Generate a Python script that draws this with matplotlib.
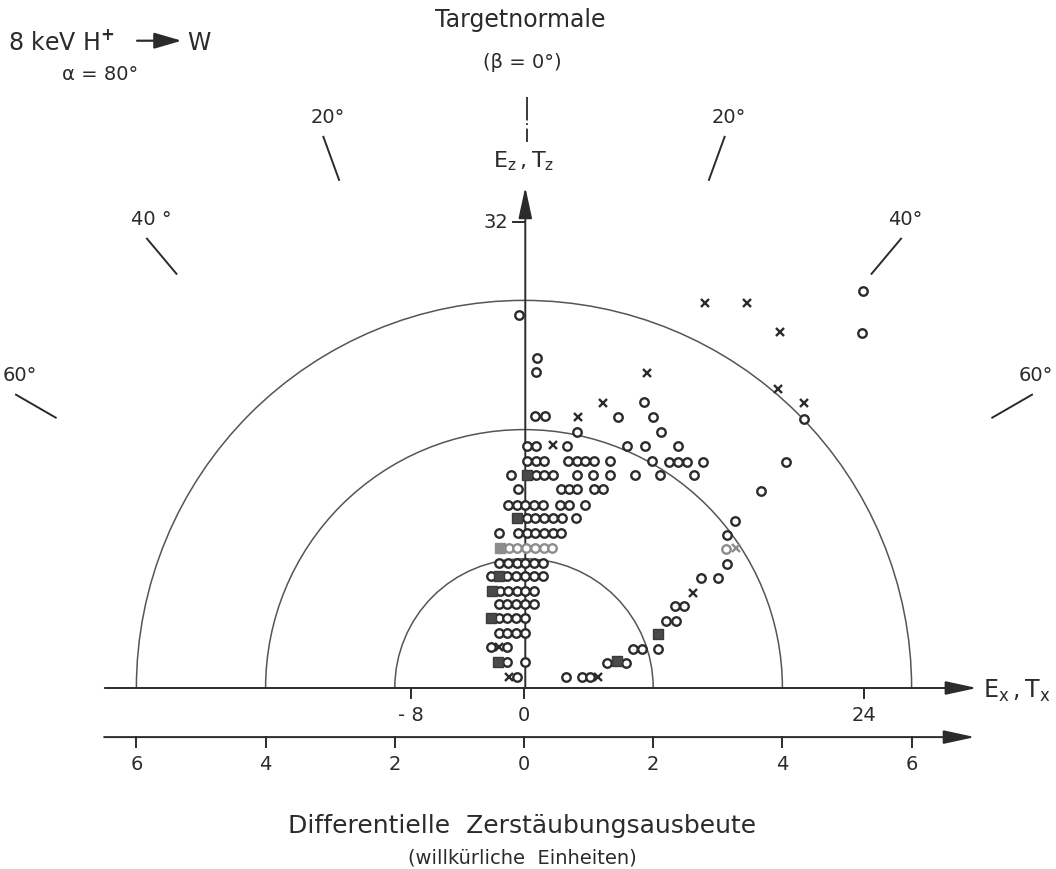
#Polar plot of differential sputtering yield, 8 keV H+ on W
import numpy as np
import matplotlib.pyplot as plt
from matplotlib.patches import Arc

#data, in units of the lower axis (differentielle Zerstaeubungsausbeute)
#open circles, grouped by row
circle_x = [-0.073, 0.197, 0.186, 0.170, 0.325, 1.455, 1.992, 1.862, 2.116, 0.816,
            5.252, 5.228, 4.334, 4.056, 3.664, 3.266, 3.138, 3.147, 2.735, 3.008,
            2.337, 2.477, 2.198, 2.353, 1.683, 1.822, 2.079, 1.289, 1.579,
            0.042, 0.186, 0.661, 1.599, 1.873, 2.389,
            0.042, 0.186, 0.310, 0.686, 0.816, 0.944, 1.084, 1.339, 1.977, 2.245, 2.384, 2.523, 2.766,
            -0.206, 0.186, 0.310, 0.444, 0.816, 1.063, 1.324, 1.718, 2.113, 2.627,
            -0.098, 0.568, 0.701, 0.825, 1.084, 1.218,
            -0.243, -0.113, 0.015, 0.155, 0.299, 0.557, 0.701, 0.944,
            0.042, 0.175, 0.310, 0.444, 0.584, 0.805,
            -0.382, -0.088, 0.042, 0.175, 0.310, 0.444, 0.568,
            -0.382, -0.248, -0.108, 0.015, 0.155, 0.294,
            -0.515, -0.259, -0.124, 0.015, 0.155, 0.290,
            -0.372, -0.243, -0.113, 0.015, 0.155,
            -0.382, -0.259, -0.124, 0.015, 0.155,
            -0.382, -0.259, -0.124, 0.015,
            -0.382, -0.259, -0.124, 0.015,
            -0.515, -0.259,
            -0.268, 0.015,
            -0.113, 0.650, 0.893, 1.022]
circle_y = [5.774, 5.113, 4.896, 4.211, 4.211, 4.195, 4.190, 4.432, 3.967, 3.958,
            6.150, 5.500, 4.159, 3.503, 3.054, 2.590, 2.368, 1.920, 1.698, 1.698,
            1.269, 1.269, 1.042, 1.042, 0.599, 0.599, 0.599, 0.392, 0.392,
            3.750, 3.750, 3.750, 3.740, 3.740, 3.740,
            3.520, 3.520, 3.520, 3.520, 3.520, 3.520, 3.520, 3.520, 3.515, 3.505, 3.505, 3.505, 3.505,
            3.297, 3.297, 3.297, 3.297, 3.297, 3.297, 3.297, 3.297, 3.297, 3.297,
            3.076, 3.076, 3.076, 3.076, 3.076, 3.076,
            2.833, 2.833, 2.833, 2.833, 2.833, 2.833, 2.833, 2.833,
            2.627, 2.627, 2.627, 2.627, 2.627, 2.627,
            2.404, 2.404, 2.404, 2.404, 2.404, 2.404, 2.404,
            1.940, 1.940, 1.940, 1.940, 1.940, 1.940,
            1.734, 1.734, 1.734, 1.734, 1.734, 1.734,
            1.506, 1.506, 1.506, 1.506, 1.506,
            1.300, 1.300, 1.300, 1.300, 1.300,
            1.079, 1.079, 1.079, 1.079,
            0.856, 0.856, 0.856, 0.856,
            0.630, 0.630,
            0.407, 0.407,
            0.175, 0.175, 0.175, 0.175]

#crosses
cross_x = [1.899, 1.218, 0.831, 0.444, 2.802, 3.447, 3.963, 3.937, 4.334, 2.611, -0.382, -0.228, 1.150]
cross_y = [4.871, 4.416, 4.200, 3.762, 5.964, 5.964, 5.515, 4.624, 4.407, 1.475, 0.630, 0.175, 0.175]

#filled squares
square_x = [0.046, -0.104, -0.382, -0.500, -0.515, -0.398, 1.435, 2.079]
square_y = [3.297, 2.627, 1.734, 1.506, 1.079, 0.407, 0.423, 0.836]

#lighter (grey) points
grey_circle_x = [-0.232, -0.101, 0.031, 0.170, 0.302, 0.433, 3.127]
grey_circle_y = [2.167, 2.167, 2.167, 2.167, 2.167, 2.167, 2.147]
grey_cross_x = [3.282]
grey_cross_y = [2.163]
grey_square_x = [-0.379]
grey_square_y = [2.167]

radii = [2, 4, 6]
lower_ticks = [-6, -4, -2, 0, 2, 4, 6]
lower_labels = ['6', '4', '2', '0', '2', '4', '6']
e_ticks = [-8, 0, 24]
e_labels = ['- 8', '0', '24']
ez_tick = 32
angles = [-60, -40, -20, 20, 40, 60]
angle_labels = ['60°', '40 °', '20°', '20°', '40°', '60°']

e_per_unit_x = 4.556  #E_x scale vs. lower axis
e_per_unit_z = 4.44

ink = '#2b2b2b'
grey = '#8c8c8c'
px = 64.6  #pixels per unit

fig = plt.figure(figsize=(10.56, 8.69), dpi=100)
ax = fig.add_axes([0, 0, 1, 1])
ax.set_xlim(-524 / px, (1056 - 524) / px)
ax.set_ylim((688 - 869) / px, 688 / px)
ax.axis('off')

#half circles
for r in radii:
    ax.add_patch(Arc((0, 0), 2 * r, 2 * r, theta1=0, theta2=180, color='#555555', lw=1.1, zorder=1))

arrow = dict(arrowstyle='-|>,head_length=1.2,head_width=0.26', lw=1.4, color=ink,
             mutation_scale=16, shrinkA=0, shrinkB=0)

#upper axis E_x
ax.annotate('', xy=(7.01, 0), xytext=(-6.49, 0), arrowprops=arrow, zorder=2)
for e, lab in zip(e_ticks, e_labels):
    u = e / e_per_unit_x
    ax.plot([u, u], [0, -0.16], color=ink, lw=1.4)
    ax.text(u, -0.43, lab, ha='center', va='center', fontsize=14, color=ink)
ax.text(7.10, -0.05, r'$\mathregular{E_x\,,T_x}$', ha='left', va='center', fontsize=17, color=ink)

#lower axis
yl = -0.76
ax.annotate('', xy=(6.98, yl), xytext=(-6.50, yl), arrowprops=arrow)
for t, lab in zip(lower_ticks, lower_labels):
    ax.plot([t, t], [yl, yl - 0.16], color=ink, lw=1.4)
    ax.text(t, -1.19, lab, ha='center', va='center', fontsize=14, color=ink)

#vertical axis E_z
ax.annotate('', xy=(0.02, 7.755), xytext=(0.02, 0), arrowprops=arrow, zorder=2)
vz = ez_tick / e_per_unit_z
ax.plot([-0.17, 0.02], [vz, vz], color=ink, lw=1.4)
ax.text(-0.25, vz, '32', ha='right', va='center', fontsize=14, color=ink)
ax.text(0.0, 8.15, r'$\mathregular{E_z\,,T_z}$', ha='center', va='center', fontsize=16, color=ink)
ax.plot([0.05, 0.05], [9.15, 8.45], color=ink, lw=1.3, linestyle=(0, (13, 1.5, 1, 2)))

#angle marks
for a, lab in zip(angles, angle_labels):
    s, c = np.sin(np.radians(a)), np.cos(np.radians(a))
    ax.plot([8.37 * s, 9.08 * s], [8.37 * c, 9.08 * c], color=ink, lw=1.4)
    ax.annotate(lab, (9.08 * s, 9.08 * c), xytext=(3, 14), textcoords='offset points',
                ha='center', va='center', fontsize=14, color=ink)

#data points
mk = dict(linestyle='none', zorder=5)
ax.plot(circle_x, circle_y, 'o', ms=6.1, mew=1.7, mec=ink, mfc='white', **mk)
ax.plot(cross_x, cross_y, 'x', ms=5.8, mew=1.7, mec=ink, **mk)
ax.plot(square_x, square_y, 's', ms=6.6, mew=1, mec='#3a3a3a', mfc='#4a4a4a', **mk)
ax.plot(grey_circle_x, grey_circle_y, 'o', ms=6.1, mew=1.7, mec=grey, mfc='white', **mk)
ax.plot(grey_cross_x, grey_cross_y, 'x', ms=5.8, mew=1.7, mec=grey, **mk)
ax.plot(grey_square_x, grey_square_y, 's', ms=6.6, mew=1, mec=grey, mfc=grey, **mk)

#titles and labels
ax.text(-0.06, 10.34, 'Targetnormale', ha='center', va='center', fontsize=17, color=ink)
ax.text(-0.03, 9.675, '(β = 0°)', ha='center', va='center', fontsize=14, color=ink)
ax.text(-7.99, 9.99, r'8 keV H$^{\mathbf{+}}$', ha='left', va='center', fontsize=17, color=ink)
ax.annotate('', xy=(-5.3, 10.02), xytext=(-5.99, 10.02),
            arrowprops=dict(arrowstyle='-|>,head_length=1.2,head_width=0.35', lw=1.6,
                            color=ink, mutation_scale=14, shrinkA=0, shrinkB=0))
ax.text(-5.22, 9.99, 'W', ha='left', va='center', fontsize=17, color=ink)
ax.text(-7.15, 9.49, 'α = 80°', ha='left', va='center', fontsize=14, color=ink)
ax.text(-0.03, -2.14, 'Differentielle  Zerstäubungsausbeute', ha='center', va='center',
        fontsize=18, color=ink)
ax.text(-0.03, -2.63, '(willkürliche  Einheiten)', ha='center', va='center', fontsize=14, color=ink)

fig.savefig('out.png', dpi=100)
